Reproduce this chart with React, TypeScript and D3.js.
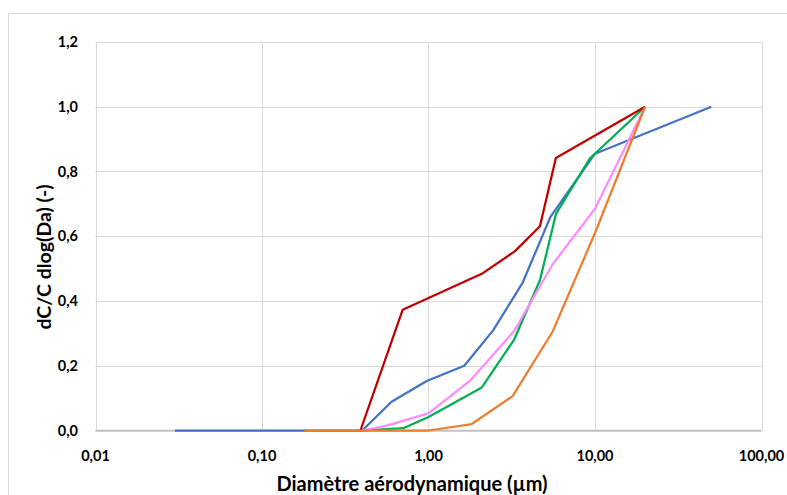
import React from "react";
import * as d3 from "d3";

const xTicks = [0.01, 0.1, 1, 10, 100];
const xTickLabels = ["0,01", "0,10", "1,00", "10,00", "100,00"];
const yTicks = [0, 0.2, 0.4, 0.6, 0.8, 1.0, 1.2];
const yTickLabels = ["0,0", "0,2", "0,4", "0,6", "0,8", "1,0", "1,2"];

const blueX = [0.03, 0.4, 0.6, 0.976, 1.64, 2.45, 3.68, 5.4, 10, 50];
const blueY = [0, 0, 0.089, 0.153, 0.2, 0.31, 0.457, 0.66, 0.855, 1.0];
const greenX = [0.4, 0.706, 1.0, 2.09, 3.27, 4.67, 5.83, 9.3, 20];
const greenY = [0, 0.007, 0.042, 0.133, 0.281, 0.464, 0.669, 0.84, 1.0];
const pinkX = [0.4, 0.56, 1.0, 1.77, 3.27, 5.59, 10, 20];
const pinkY = [0, 0.015, 0.053, 0.153, 0.307, 0.515, 0.685, 1.0];
const redX = [0.39, 0.7, 2.09, 3.31, 4.67, 5.82, 20];
const redY = [0, 0.373, 0.484, 0.554, 0.631, 0.842, 1.0];
const orangeX = [0.18, 0.4, 1.0, 1.82, 3.2, 5.56, 10, 20];
const orangeY = [0, 0, 0, 0.02, 0.106, 0.305, 0.61, 1.0];

const series = [
  { name: "blue", xs: blueX, ys: blueY, color: "#4472C4" },
  { name: "green", xs: greenX, ys: greenY, color: "#00B050" },
  { name: "pink", xs: pinkX, ys: pinkY, color: "#FF8CFF" },
  { name: "red", xs: redX, ys: redY, color: "#C00000" },
  { name: "orange", xs: orangeX, ys: orangeY, color: "#ED7D31" },
];

const W = 787;
const H = 495;
const left = 95.5;
const right = 761.5;
const top = 42;
const bottom = 430.5;
const font = "Lato, 'Open Sans', sans-serif";

export default function App() {
  const x = d3.scaleLog().domain([0.01, 100]).range([left, right]);
  const y = d3.scaleLinear().domain([0, 1.2]).range([bottom, top]);
  const line = d3
    .line<[number, number]>()
    .x((d) => x(d[0]))
    .y((d) => y(d[1]));

  return (
    <svg
      width={W}
      height={H}
      style={{ position: "absolute", left: 0, top: 0, background: "#fff" }}
    >
      <rect x={8.5} y={13.5} width={900} height={600} fill="#fff" stroke="#d9d9d9" strokeWidth={1} />
      {yTicks.map((t) => (
        <line key={"gy" + t} x1={left} x2={right} y1={Math.round(y(t)) + 0.5} y2={Math.round(y(t)) + 0.5} stroke="#d9d9d9" strokeWidth={1} />
      ))}
      {xTicks.map((t) => (
        <line key={"gx" + t} x1={Math.round(x(t)) + 0.5} x2={Math.round(x(t)) + 0.5} y1={top} y2={bottom} stroke="#d9d9d9" strokeWidth={1} />
      ))}
      <line x1={left} x2={right} y1={bottom} y2={bottom} stroke="#bfbfbf" strokeWidth={1.5} />
      {series.map((s) => (
        <path
          key={s.name}
          d={line(s.xs.map((v, i) => [v, s.ys[i]] as [number, number])) || ""}
          fill="none"
          stroke={s.color}
          strokeWidth={2.25}
          strokeLinejoin="round"
        />
      ))}
      {yTicks.map((t, i) => (
        <text key={"ty" + t} x={78} y={y(t)} dy="0.35em" textAnchor="end" fontFamily={font} fontWeight="bold" fontSize={14.5} fill="#000">
          {yTickLabels[i]}
        </text>
      ))}
      {xTicks.map((t, i) => (
        <text key={"tx" + t} x={x(t)} y={456} dy="0.35em" textAnchor="middle" fontFamily={font} fontWeight="bold" fontSize={14.5} fill="#000">
          {xTickLabels[i]}
        </text>
      ))}
      <text x={412} y={484} dy="0.35em" textAnchor="middle" fontFamily={font} fontWeight="bold" fontSize={20} fill="#000">
        Diamètre aérodynamique (µm)
      </text>
      <text transform="translate(44,257) rotate(-90)" dy="0.35em" textAnchor="middle" fontFamily={font} fontWeight="bold" fontSize={19.5} fill="#000">
        dC/C dlog(Da) (-)
      </text>
    </svg>
  );
}
